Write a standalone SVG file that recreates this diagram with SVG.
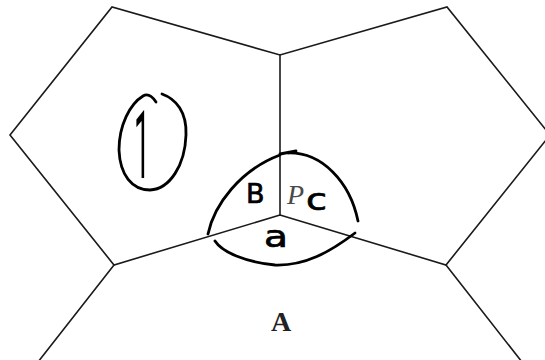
<svg xmlns="http://www.w3.org/2000/svg" width="545" height="360" viewBox="0 0 545 360">
<style>
.edge{fill:none;stroke:#1a1a1a;stroke-width:1.6;stroke-linecap:round;stroke-linejoin:miter}
.ink{fill:none;stroke:#000;stroke-width:2.8;stroke-linecap:round;stroke-linejoin:round}
.hand{font-family:"DejaVu Sans",sans-serif;fill:#000;stroke:#000;stroke-width:0.7}
</style>
<rect width="545" height="360" fill="#fff"/>
<g id="edges">
<polyline class="edge" points="280,215 114,265 10,135 112,7 280,55 447,7 550,135 446,265 280,215"/>
<line class="edge" x1="280" y1="55" x2="280" y2="215"/>
<line class="edge" x1="114" y1="265" x2="38" y2="362"/>
<line class="edge" x1="446" y1="265" x2="522" y2="362"/>
</g>
<g id="annotations">
<path class="ink" d="M156,102 C152,96 148,93 143,96 C130,104 119,125 119,150 C120,175 132,190 150,190 C170,189 185,165 186,135 C187,112 176,99 162,94"/>
<path class="ink" d="M208,234 C214,205 240,170 280,155 M280,154 L296,151 M288,153 C322,152 350,182 358,221"/>
<path class="ink" d="M215,241 C222,252 245,262 275,265 C305,266 330,252 355,233"/>
</g>
<g id="labels">
<text transform="translate(134,178) scale(0.3,1)" font-family="Roboto,sans-serif" font-size="95" fill="#000">1</text>
<text class="hand" x="246" y="203" font-size="27">B</text>
<text x="287" y="204" font-family="Liberation Serif,serif" font-style="italic" font-size="28" fill="#4a4a4a">P</text>
<text class="hand" x="306" y="210" font-size="30" textLength="21" lengthAdjust="spacingAndGlyphs">c</text>
<text class="hand" x="264" y="247" font-size="30" textLength="24" lengthAdjust="spacingAndGlyphs">a</text>
<text x="281" y="331" font-family="Liberation Serif,serif" font-weight="bold" font-size="28" fill="#222" text-anchor="middle">A</text>
</g>
</svg>
